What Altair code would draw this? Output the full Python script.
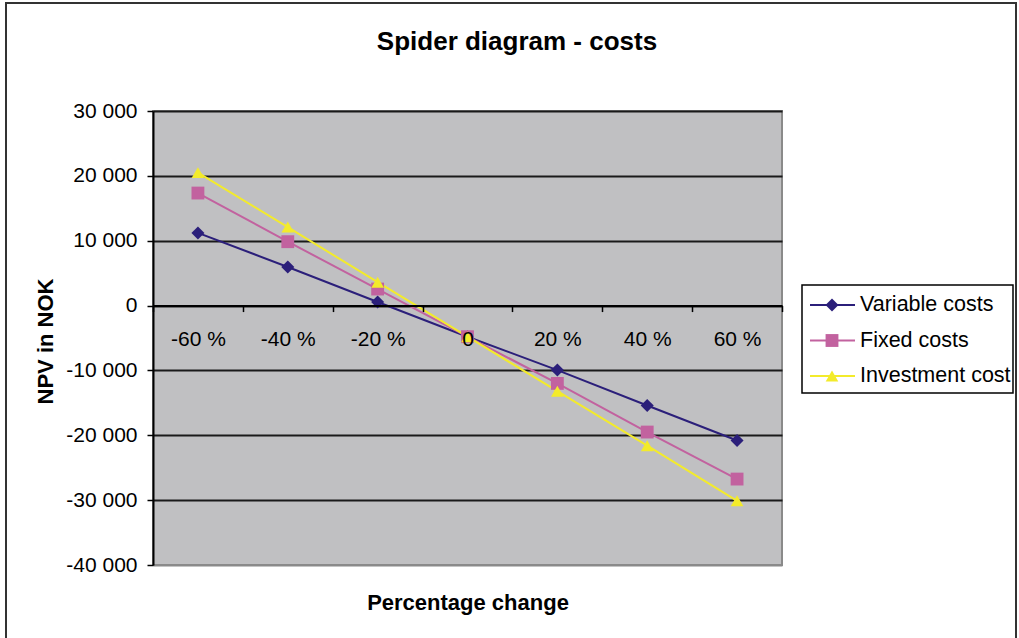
import altair as alt
import pandas as pd

# Percentage change applied to each cost item (category axis)
changes = ["-60 %", "-40 %", "-20 %", "0", "20 %", "40 %", "60 %"]

# NPV (NOK) for each sensitivity series
series_names = ["Variable costs", "Fixed costs", "Investment cost"]
variable_costs = [11200, 5950, 550, -4800, -9950, -15400, -20800]
fixed_costs = [17350, 9850, 2550, -4800, -12000, -19500, -26750]
investment_cost = [20500, 12100, 3600, -4800, -13200, -21600, -30100]

y_ticks = [30000, 20000, 10000, 0, -10000, -20000, -30000, -40000]
y_domain = [-40000, 30000]

chart_title = "Spider diagram - costs"

colors = ["#2B1F7A", "#C2629F", "#F3EB2B"]
shapes = ["diamond", "square", "triangle-up"]
marker_sizes = [170, 160, 250]

FONT = "Liberation Sans"
W, H = 629, 454

rows = []
for name, vals in zip(series_names, [variable_costs, fixed_costs, investment_cost]):
    for i, (c, v) in enumerate(zip(changes, vals)):
        rows.append({"series": name, "change": c, "npv": v, "idx": i})
df = pd.DataFrame(rows)
legend_df = pd.DataFrame({"series": series_names})

color_scale = alt.Scale(domain=series_names, range=colors)
shape_scale = alt.Scale(domain=series_names, range=shapes)
size_scale = alt.Scale(domain=series_names, range=marker_sizes)

# pixel distance from the top of the plot to the NPV = 0 line
zero_px = H * y_domain[1] / (y_domain[1] - y_domain[0])

x_enc = alt.X(
    "change:N",
    sort=changes,
    bandPosition=0.5,
    scale=alt.Scale(type="band", paddingInner=0, paddingOuter=0),
    axis=alt.Axis(
        title="Percentage change",
        orient="bottom",
        offset=-(H - zero_px),
        domainColor="#000000",
        domainWidth=2,
        tickColor="#000000",
        tickWidth=1.5,
        tickSize=6,
        tickBand="extent",
        labelAngle=0,
        labelFont=FONT,
        labelFontSize=21,
        labelColor="#000000",
        labelPadding=17,
        labelOverlap=False,
        titleFont=FONT,
        titleFontSize=22,
        titleFontWeight="bold",
        titleColor="#000000",
        titleX=W / 2,
        titleY=297,
        titleAlign="center",
        titleBaseline="middle",
        grid=False,
        zindex=1,
    ),
)

y_enc = alt.Y(
    "npv:Q",
    scale=alt.Scale(domain=y_domain, nice=False, zero=False),
    axis=alt.Axis(
        title="NPV in NOK",
        values=y_ticks,
        labelExpr="(datum.value < 0 ? '-' : '') + replace(format(abs(datum.value), ','), regexp(',', 'g'), ' ')",
        domainColor="#000000",
        domainWidth=2,
        tickColor="#000000",
        tickWidth=1.5,
        tickSize=6,
        labelFont=FONT,
        labelFontSize=21,
        labelColor="#000000",
        labelPadding=10,
        grid=True,
        gridColor={"condition": {"test": "datum.value <= -40000", "value": "#8A8A8A"}, "value": "#1A1A1A"},
        gridWidth=1.8,
        titleFont=FONT,
        titleFontSize=22,
        titleFontWeight="bold",
        titleColor="#000000",
        titleAngle=270,
        titleX=-108,
        titleY=230,
        titleAlign="center",
        titleBaseline="middle",
    ),
)

color_enc = alt.Color("series:N", scale=color_scale, legend=None)
shape_enc = alt.Shape("series:N", scale=shape_scale, legend=None)
size_enc = alt.Size("series:N", scale=size_scale, legend=None)

lines = alt.Chart(df).mark_line(strokeWidth=2).encode(
    x=x_enc, y=y_enc, color=color_enc, order="idx:Q"
)
points = alt.Chart(df).mark_point(filled=True, opacity=1).encode(
    x=x_enc, y=y_enc, color=color_enc, shape=shape_enc, size=size_enc
)
main = alt.layer(lines, points)

# Outer chart frame
frame = alt.Chart(pd.DataFrame({"series": ["frame"]})).mark_rect(
    fillOpacity=0, stroke="#333333", strokeWidth=2
).encode(
    x=alt.value(-147), x2=alt.value(863), y=alt.value(-108), y2=alt.value(540)
)

# Chart heading, centred over the whole frame
heading = alt.Chart(pd.DataFrame({"text": [chart_title]})).mark_text(
    align="center", baseline="middle", font=FONT, fontSize=26,
    fontWeight="bold", color="#000000"
).encode(x=alt.value(364), y=alt.value(-69), text="text:N")

# Legend box with line + marker samples
legend_box = alt.Chart(pd.DataFrame({"series": ["box"]})).mark_rect(
    fill="#FFFFFF", stroke="#000000", strokeWidth=1.5
).encode(
    x=alt.value(649), x2=alt.value(860), y=alt.value(174), y2=alt.value(282)
)

legend_y = alt.Y(
    "series:N",
    scale=alt.Scale(type="point", domain=series_names, range=[194, 265], padding=0),
    axis=None,
)
legend_rules = alt.Chart(legend_df).mark_rule(strokeWidth=2).encode(
    x=alt.value(657), x2=alt.value(702), y=legend_y, color=color_enc
)
legend_marks = alt.Chart(legend_df).mark_point(filled=True, opacity=1).encode(
    x=alt.value(679), y=legend_y, color=color_enc, shape=shape_enc, size=size_enc
)
legend_text = alt.Chart(legend_df).mark_text(
    align="left", baseline="middle", font=FONT, fontSize=21.5, color="#000000"
).encode(x=alt.value(707), y=legend_y, text="series:N")
legend = alt.layer(legend_rules, legend_marks, legend_text)

chart = (
    alt.layer(frame, heading, main, legend_box, legend)
    .resolve_scale(y="independent")
    .properties(
        width=W,
        height=H,
        padding={"left": 153, "top": 111, "right": 237, "bottom": 73},
        autosize=alt.AutoSizeParams(type="none"),
        background="#FFFFFF",
    )
    .configure_view(fill="#C0C0C2", stroke="#8A8A8A", strokeWidth=2)
)

chart.save("out.html", embed_options={"renderer": "svg", "actions": False})
